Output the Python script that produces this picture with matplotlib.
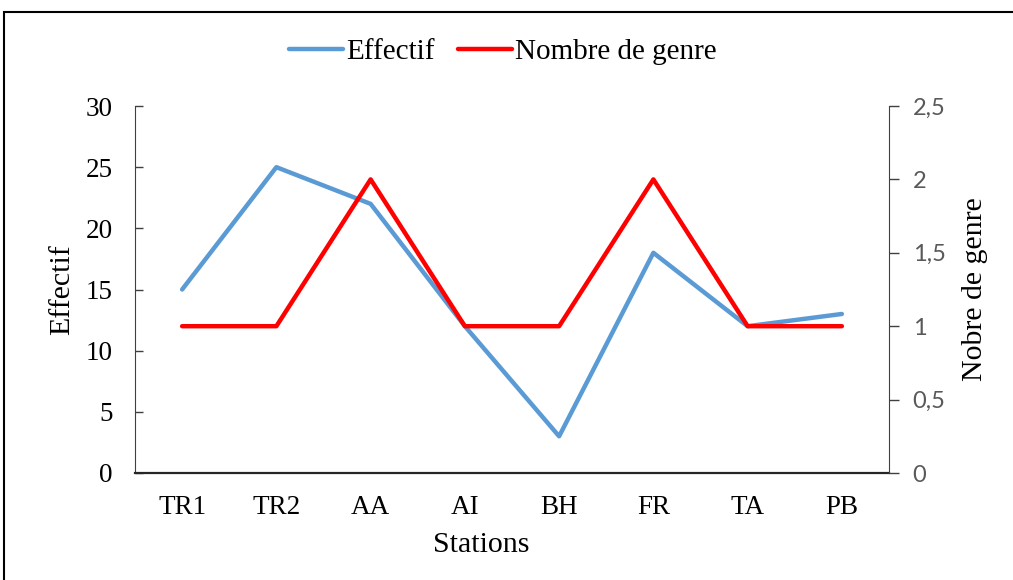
import matplotlib.pyplot as plt
import matplotlib.patches as patches

stations = ["TR1", "TR2", "AA", "AI", "BH", "FR", "TA", "PB"]
effectif = [15, 25, 22, 12, 3, 18, 12, 13]
nombre_genre = [1, 1, 2, 1, 1, 2, 1, 1]
left_ticks = [0, 5, 10, 15, 20, 25, 30]
right_ticks = [0, 0.5, 1, 1.5, 2, 2.5]
right_labels = ["0", "0,5", "1", "1,5", "2", "2,5"]

serif = "Liberation Serif"
fs_tick = 19.5
fs_lab = 21.5

fig = plt.figure(figsize=(10.13, 5.8), dpi=100)
ax = fig.add_axes([135/1013, 1 - 473/580, 754/1013, 367/580])
ax2 = ax.twinx()

x = range(len(stations))
l1, = ax.plot(x, effectif, color="#5B9BD5", lw=3.2, label="Effectif", solid_capstyle="round")
l2, = ax2.plot(x, nombre_genre, color="#FF0000", lw=3.2, label="Nombre de genre", solid_capstyle="round")

ax.set_xlim(-0.5, len(stations) - 0.5)
ax.set_ylim(0, 30)
ax2.set_ylim(0, 2.5)

ax.set_xticks(list(x))
ax.set_xticklabels(stations, fontfamily=serif, fontsize=fs_tick)
ax.tick_params(axis="x", length=0, pad=16)
ax.set_yticks(left_ticks)
ax.set_yticklabels([str(t) for t in left_ticks], fontfamily=serif, fontsize=fs_tick)
ax.tick_params(axis="y", direction="in", length=6, width=1, color="#404040", pad=16)

ax2.set_yticks(right_ticks)
ax2.set_yticklabels(right_labels, fontfamily="Lato", fontsize=17, color="#595959")
ax2.tick_params(axis="y", direction="out", length=7, width=1, color="#404040", pad=10)

for a in (ax, ax2):
    a.spines["top"].set_visible(False)
    a.spines["left"].set_color("#404040")
    a.spines["right"].set_color("#404040")
    a.spines["bottom"].set_color("#262626")
    a.spines["bottom"].set_linewidth(1.6)
ax2.spines["bottom"].set_visible(False)
ax2.spines["left"].set_visible(False)
ax.spines["right"].set_visible(False)

ax.set_xlabel("Stations", fontfamily=serif, fontsize=fs_lab)
ax.xaxis.set_label_coords(0.459, -0.16)
ax.set_ylabel("Effectif", fontfamily=serif, fontsize=fs_lab)
ax.yaxis.set_label_coords(-0.080, 0.5)
ax2.set_ylabel("Nobre de genre", fontfamily=serif, fontsize=fs_lab, rotation=90)
ax2.yaxis.set_label_coords(1.097, 0.5)

fig.legend(handles=[l1, l2], loc="center", bbox_to_anchor=(503/1013, 1 - 52/580),
           ncol=2, frameon=False, prop={"family": serif, "size": 21},
           handlelength=1.85, handletextpad=0.1, columnspacing=0.8)

# outer chart frame (right and bottom edges fall outside the image)
frame = patches.Rectangle((4/1013, -0.1), 1.2, 1 - 12/580 + 0.1, transform=fig.transFigure,
                          fill=False, edgecolor="black", lw=1.5, clip_on=False)
fig.add_artist(frame)

fig.savefig("out.png", dpi=100)
